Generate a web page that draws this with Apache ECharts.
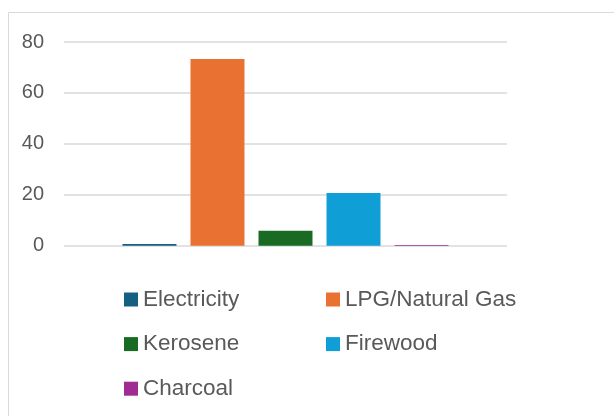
<!DOCTYPE html>
<html>
<head>
<meta charset="utf-8">
<script src="https://cdn.jsdelivr.net/npm/echarts@6/dist/echarts.min.js"></script>
<style>html,body{margin:0;padding:0;background:#fff;}#c{width:614px;height:416px;}</style>
</head>
<body>
<div id="c"></div>
<script>
const categories = [''];
const seriesNames = ['Electricity', 'LPG/Natural Gas', 'Kerosene', 'Firewood', 'Charcoal'];
const seriesValues = [0.7, 73.3, 5.9, 20.7, 0.3];
const yTicks = [0, 20, 40, 60, 80];
const colors = ['#156082', '#E97132', '#196B24', '#0F9ED5', '#A02B93'];

const chart = echarts.init(document.getElementById('c'), null, {renderer: 'canvas'});
const font = 'Liberation Sans, Arial, sans-serif';
const legendBase = {
  orient: 'vertical',
  icon: 'rect',
  itemWidth: 14,
  itemHeight: 14,
  itemGap: 21.6,
  itemTextGap: 6,
  padding: 0,
  selectedMode: false,
  textStyle: {color: '#595959', fontSize: 22.5, fontFamily: font, lineHeight: 20}
};
chart.setOption({
  animation: false,
  color: colors,
  graphic: [{
    type: 'rect',
    shape: {x: 8.5, y: 12.5, width: 700, height: 500},
    style: {fill: 'none', stroke: '#d9d9d9', lineWidth: 1}
  }],
  grid: {left: 64, right: 107, top: 42, bottom: 170.3},
  xAxis: {
    type: 'category',
    data: categories,
    axisLine: {show: false},
    axisTick: {show: false},
    axisLabel: {show: false}
  },
  yAxis: {
    type: 'value',
    min: yTicks[0],
    max: yTicks[yTicks.length - 1],
    interval: yTicks[1] - yTicks[0],
    axisLine: {show: false},
    axisTick: {show: false},
    axisLabel: {color: '#595959', fontSize: 20, fontFamily: font, margin: 20},
    splitLine: {lineStyle: {color: '#d9d9d9', width: 1.5}}
  },
  legend: [
    Object.assign({}, legendBase, {left: 124, top: 288, data: [seriesNames[0], seriesNames[2], seriesNames[4]]}),
    Object.assign({}, legendBase, {left: 326, top: 288, data: [seriesNames[1], seriesNames[3]]})
  ],
  series: seriesNames.map((name, i) => ({
    name: name,
    type: 'bar',
    data: [seriesValues[i]],
    barGap: '26%',
    barCategoryGap: '26.4%',
    itemStyle: {color: colors[i]}
  }))
});
</script>
</body>
</html>
